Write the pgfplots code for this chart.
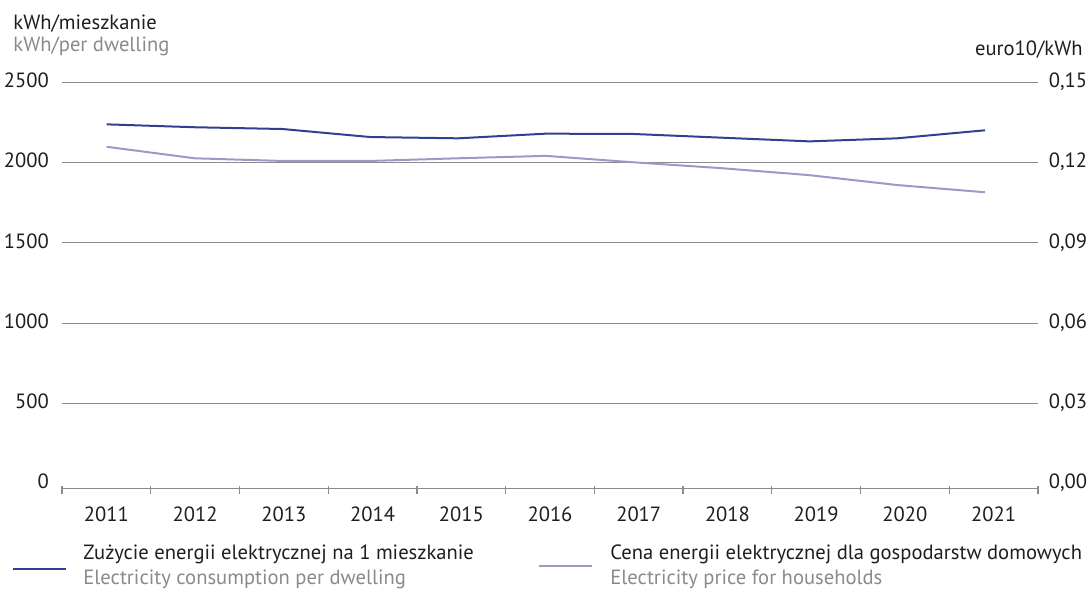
\documentclass[border=0pt]{standalone}
\usepackage{fontspec}
\setmainfont{PT Sans}
\usepackage{pgfplots}
\pgfplotsset{compat=1.18}

\definecolor{consblue}{HTML}{2F4091}
\definecolor{pricelil}{HTML}{9C99C9}
\definecolor{gridgray}{HTML}{8C8C8C}
\definecolor{txtgray}{HTML}{8A8A8A}
\definecolor{txtblack}{HTML}{1E1E1E}

% kWh per dwelling
\pgfplotstableread{
year  kwh
2011  2238
2012  2220
2013  2209
2014  2159
2015  2151
2016  2180
2017  2178
2018  2155
2019  2132
2020  2151
2021  2201
}\consumption

% price, euro10/kWh
\pgfplotstableread{
year  price
2011  0.1259
2012  0.1216
2013  0.1206
2014  0.1206
2015  0.1216
2016  0.1225
2017  0.1201
2018  0.1179
2019  0.1153
2020  0.1116
2021  0.1089
}\price

\pgfplotsset{
  base/.style={
    scale only axis,
    width=488pt, height=203pt,
    /pgf/number format/assume math mode=true,
    ticklabel style={font=\fontsize{10.3pt}{12pt}\selectfont, text=txtblack},
  },
  data/.style={
    base,
    xmin=2010.491, xmax=2021.603,
  },
}

\begin{document}
\fontsize{10.3pt}{12pt}\selectfont
\begin{tikzpicture}
% frame: grid, categories, left scale
\begin{axis}[
  base,
  xmin=-0.5, xmax=10.5,
  ymin=-29, ymax=2500,
  separate axis lines,
  axis x line=bottom,
  axis y line=left,
  x axis line style={-, draw=gridgray, line width=0.6pt},
  y axis line style={draw=none},
  xtick={0,...,10},
  xticklabels={2011,2012,2013,2014,2015,2016,2017,2018,2019,2020,2021},
  major x tick style={draw=none},
  minor xtick={-0.5,0.5,...,10.5},
  minor x tick style={draw=gridgray, line width=0.6pt, yshift=-1pt},
  minor tick length=4pt,
  tick align=center,
  xticklabel style={anchor=base, yshift=-14.3pt},
  ytick={500,1000,1500,2000,2500},
  extra y ticks={0},
  extra y tick style={grid=none},
  ytick style={draw=none},
  ymajorgrids,
  grid style={draw=gridgray, line width=0.6pt},
  yticklabel style={anchor=base east, xshift=-0.8pt, yshift=-2.6pt},
  /pgf/number format/1000 sep={},
]
\end{axis}

% consumption line
\begin{axis}[
  data,
  ymin=-29, ymax=2500,
  hide axis,
]
\addplot[consblue, line width=1pt] table[x=year, y=kwh] {\consumption};
\end{axis}

% price line and right scale
\begin{axis}[
  data,
  ymin=-0.00174, ymax=0.15,
  axis x line=none,
  axis y line*=right,
  y axis line style={draw=none},
  ytick={0,0.03,0.06,0.09,0.12,0.15},
  ytick style={draw=none},
  yticklabel style={anchor=base west, xshift=1.8pt, yshift=-2.6pt,
    /pgf/number format/.cd, fixed, fixed zerofill, precision=2, use comma},
]
\addplot[pricelil, line width=1pt] table[x=year, y=price] {\price};
\end{axis}

% axis titles
\node[anchor=base west, text=txtblack, inner sep=0pt] at (-24.5pt,229.6pt) {kWh/mieszkanie};
\node[anchor=base west, text=txtgray, inner sep=0pt] at (-24.5pt,218.6pt) {kWh/per dwelling};
\node[anchor=base east, text=txtblack, inner sep=0pt] at (510.5pt,216.6pt) {euro10/kWh};

% legend
\draw[consblue, line width=1.2pt] (-24.5pt,-40.3pt) -- (2pt,-40.3pt);
\node[anchor=base west, text=txtblack, inner sep=0pt] at (10.5pt,-35.8pt) {Zużycie energii elektrycznej na 1 mieszkanie};
\node[anchor=base west, text=txtgray, inner sep=0pt] at (10.5pt,-48.3pt) {Electricity consumption per dwelling};
\draw[pricelil, line width=1.2pt] (238.5pt,-38.8pt) -- (265pt,-38.8pt);
\node[anchor=base west, text=txtblack, inner sep=0pt] at (274pt,-35.8pt) {Cena energii elektrycznej dla gospodarstw domowych};
\node[anchor=base west, text=txtgray, inner sep=0pt] at (274pt,-48.3pt) {Electricity price for households};

% page frame
\pgfresetboundingbox
\path[use as bounding box] (-31pt,-50.35pt) rectangle (515pt,244.15pt);
\end{tikzpicture}
\end{document}
